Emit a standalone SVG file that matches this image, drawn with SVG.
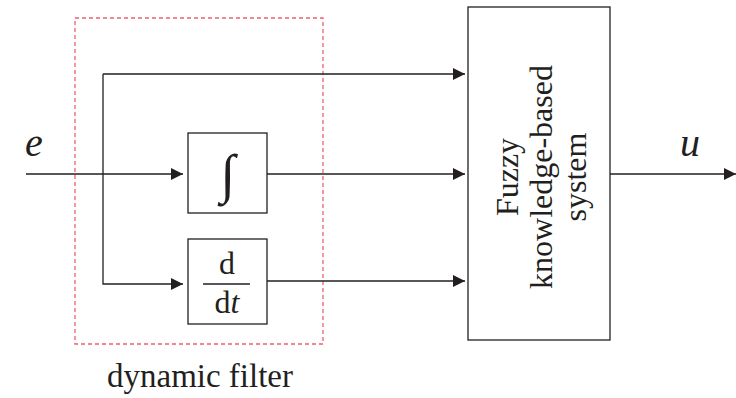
<svg xmlns="http://www.w3.org/2000/svg" width="736" height="398" viewBox="0 0 736 398">
<style>
.ln{fill:none;stroke:#231f20;stroke-width:1.3}
.bx{fill:#fff;stroke:#231f20;stroke-width:1.3}
.t{font-family:"Liberation Serif","Times New Roman",serif;fill:#231f20}
.i{font-style:italic}
</style>
<defs>
<marker id="ah" viewBox="0 0 12 12" refX="12" refY="6" markerWidth="12" markerHeight="12" markerUnits="userSpaceOnUse" orient="auto">
<path d="M0,0 L12,6 L0,12 Z" fill="#231f20"/>
</marker>
</defs>
<g id="dynamic-filter">
<rect x="75" y="18" width="248" height="326" fill="none" stroke="#f0606c" stroke-width="1.3" stroke-dasharray="4,3"/>
<text class="t" x="200" y="387" font-size="33" text-anchor="middle">dynamic filter</text>
</g>
<g id="connectors">
<path class="ln" d="M26,174 H183" marker-end="url(#ah)"/>
<path class="ln" d="M103,74 H465" marker-end="url(#ah)"/>
<path class="ln" d="M103,74 V284 H183" marker-end="url(#ah)"/>
<path class="ln" d="M267,174 H465" marker-end="url(#ah)"/>
<path class="ln" d="M267,281 H465" marker-end="url(#ah)"/>
<path class="ln" d="M610,174 H736" marker-end="url(#ah)"/>
</g>
<g id="integrator">
<rect class="bx" x="188" y="133" width="79" height="80"/>
<text class="t" x="228" y="192" font-size="54" text-anchor="middle">∫</text>
</g>
<g id="differentiator">
<rect class="bx" x="188" y="239" width="79" height="85"/>
<text class="t" x="227" y="274" font-size="32" text-anchor="middle">d</text>
<line class="ln" x1="203" y1="284" x2="250" y2="284"/>
<text class="t" x="227" y="313" font-size="32" text-anchor="middle">d<tspan class="i">t</tspan></text>
</g>
<g id="fuzzy">
<rect class="bx" x="468" y="7" width="142" height="333"/>
<g transform="translate(0,177) rotate(-90)">
<text class="t" x="0" y="518" font-size="32" text-anchor="middle">Fuzzy</text>
<text class="t" x="0" y="552" font-size="32" text-anchor="middle">knowledge-based</text>
<text class="t" x="0" y="586" font-size="32" text-anchor="middle">system</text>
</g>
</g>
<g id="labels">
<text class="t i" x="34" y="156" font-size="40" text-anchor="middle">e</text>
<text class="t i" x="690" y="156" font-size="40" text-anchor="middle">u</text>
</g>
</svg>
